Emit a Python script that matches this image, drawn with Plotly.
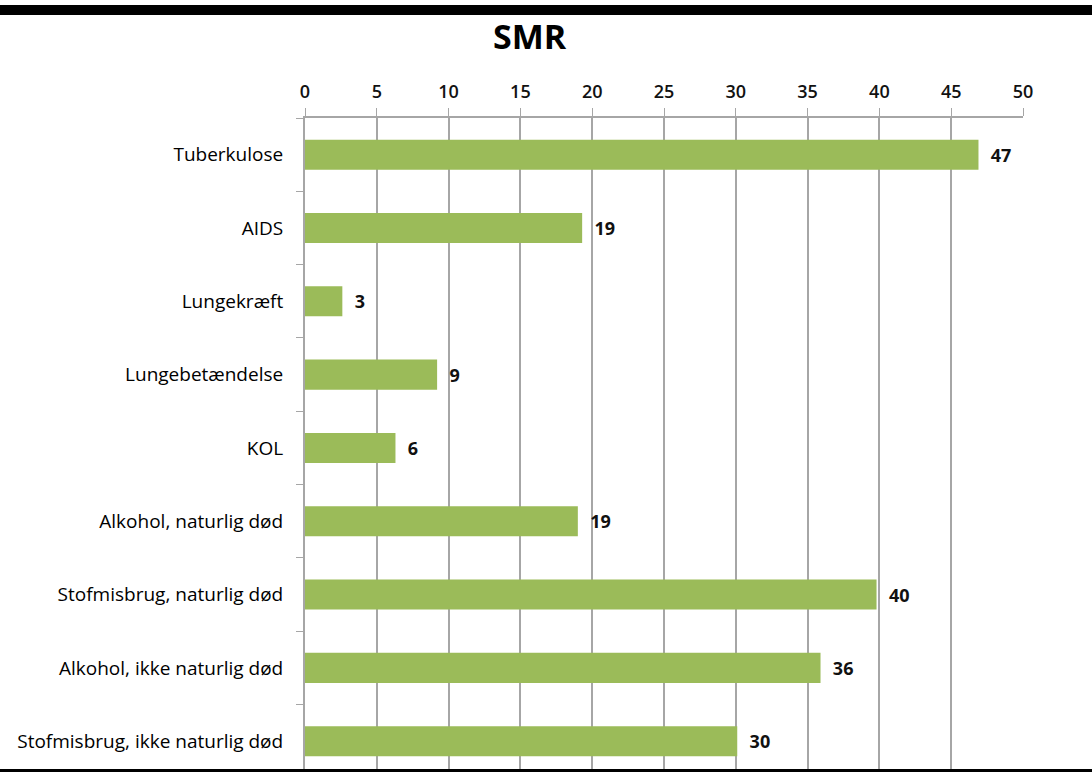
import plotly.graph_objects as go

# SMR per cause of death
categories = ["Tuberkulose", "AIDS", "Lungekræft", "Lungebetændelse", "KOL",
              "Alkohol, naturlig død", "Stofmisbrug, naturlig død",
              "Alkohol, ikke naturlig død", "Stofmisbrug, ikke naturlig død"]
smr = [46.9, 19.3, 2.6, 9.2, 6.3, 19.0, 39.8, 35.9, 30.1]
labels = ["47", "19", "3", "9", "6", "19", "40", "36", "30"]
x_ticks = [0, 5, 10, 15, 20, 25, 30, 35, 40, 45, 50]

font = "'Open Sans', Lato, sans-serif"

data = [
    go.Bar(y=categories, x=smr, orientation="h",
           marker=dict(color="#9BBB59", line=dict(width=0)),
           text=labels, texttemplate="\u00a0\u00a0%{text}",
           textposition="outside", cliponaxis=False,
           textfont=dict(family=font, size=18, color="#111", weight="bold"))
]

layout = go.Layout(
    width=1092, height=772,
    margin=dict(l=305, r=69, t=118, b=0),
    paper_bgcolor="white", plot_bgcolor="white",
    bargap=0.59,
    showlegend=False,
    title=dict(text="<b>SMR</b>", x=0.485, xanchor="center", y=0.952, yanchor="middle",
               font=dict(family=font, size=34, color="#000")),
    xaxis=dict(side="top", range=[0, 50], tickvals=x_ticks,
               showgrid=True, gridcolor="#a6a6a6", gridwidth=2,
               showline=True, linecolor="#a6a6a6", linewidth=2,
               ticks="outside", ticklen=8, tickcolor="#a6a6a6", tickwidth=1,
               tickfont=dict(family=font, size=18, color="#111", weight=600),
               ticklabelstandoff=3,
               zeroline=False, fixedrange=True),
    yaxis=dict(range=[8.42, -0.5], showline=True, linecolor="#a6a6a6", linewidth=2,
               ticks="outside", tickson="boundaries", ticklen=7, tickcolor="#a6a6a6",
               tickfont=dict(family=font, size=19, color="#000"),
               ticklabelstandoff=16, fixedrange=True),
    shapes=[
        # thick black frame at the top and thin one at the bottom of the image
        dict(type="rect", xref="paper", yref="paper", x0=-0.43, x1=1.1,
             y0=1.1575, y1=1.1728, fillcolor="black", line=dict(width=0)),
        dict(type="rect", xref="paper", yref="paper", x0=-0.43, x1=1.1,
             y0=-0.01, y1=0.0046, fillcolor="black", line=dict(width=0)),
    ],
)

fig = go.Figure(data=data, layout=layout)
fig.write_html("out.html", config={"displayModeBar": False},
               post_script="document.body.style.margin='0';")
